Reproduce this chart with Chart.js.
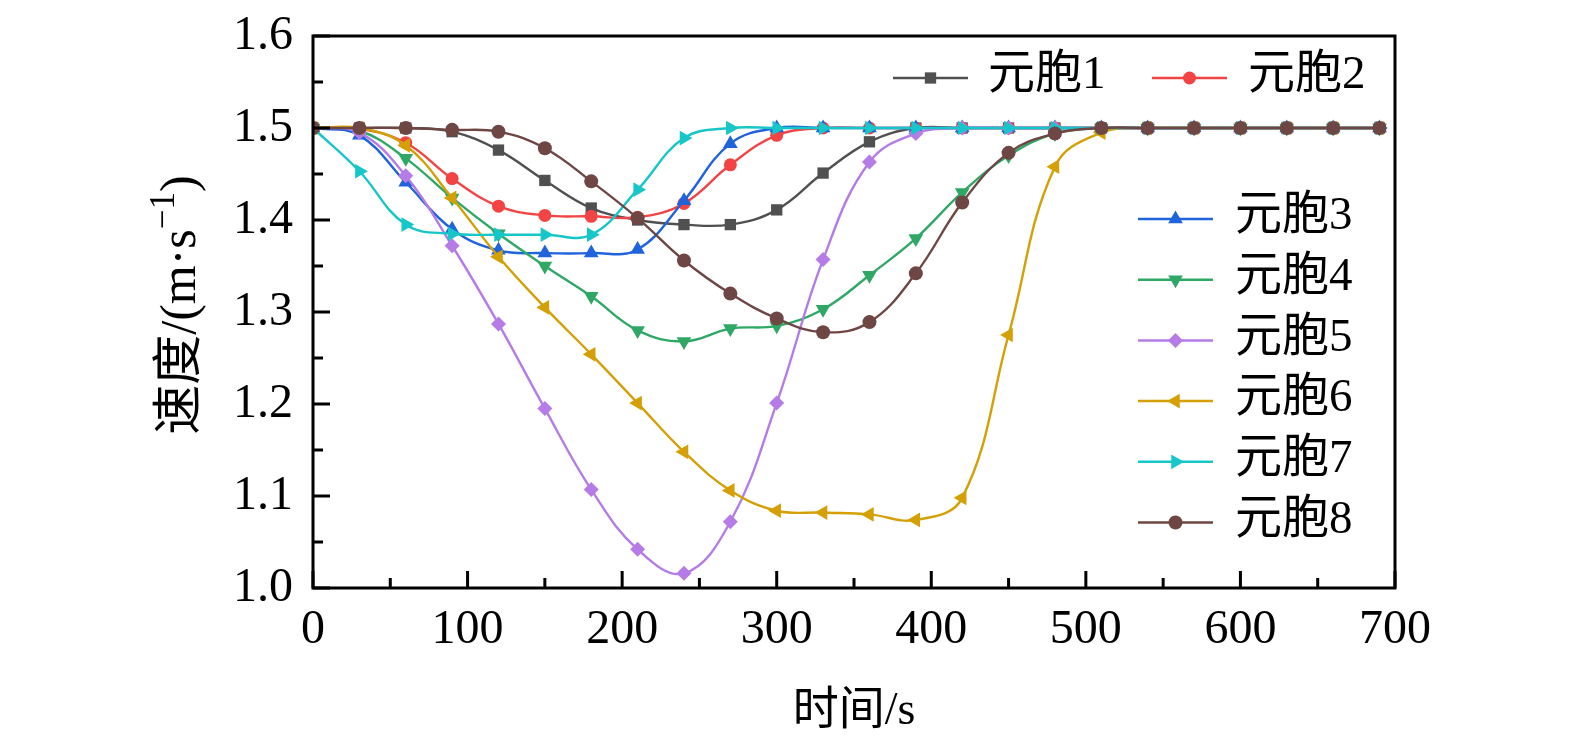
<!DOCTYPE html>
<html>
<head>
<meta charset="utf-8">
<script src="https://cdn.jsdelivr.net/npm/chart.js@4.4.0/dist/chart.umd.min.js"></script>
<style>
  html, body { margin: 0; padding: 0; background: #fff; }
  canvas { display: block; }
</style>
</head>
<body>
<canvas id="grafico" width="1575" height="748"></canvas>
<script>
// tempos (s) das amostras
const tempos = [0, 30, 60, 90, 120, 150, 180, 210, 240, 270, 300, 330,
                360, 390, 420, 450, 480, 510, 540, 570, 600, 630, 660, 690];

// velocidade (m/s) de cada elemento
const celula1 = [1.5, 1.5, 1.5, 1.496, 1.476, 1.443, 1.413, 1.400, 1.395, 1.395, 1.411, 1.451,
                 1.485, 1.5, 1.5, 1.5, 1.5, 1.5, 1.5, 1.5, 1.5, 1.5, 1.5, 1.5];
const celula2 = [1.5, 1.499, 1.484, 1.445, 1.415, 1.405, 1.404, 1.403, 1.418, 1.460, 1.492, 1.5,
                 1.5, 1.5, 1.5, 1.5, 1.5, 1.5, 1.5, 1.5, 1.5, 1.5, 1.5, 1.5];
const celula3 = [1.5, 1.492, 1.441, 1.390, 1.367, 1.364, 1.364, 1.368, 1.421, 1.483, 1.5, 1.5,
                 1.5, 1.5, 1.5, 1.5, 1.5, 1.5, 1.5, 1.5, 1.5, 1.5, 1.5, 1.5];
const celula4 = [1.5, 1.497, 1.467, 1.424, 1.385, 1.350, 1.317, 1.280, 1.268, 1.282, 1.285, 1.303,
                 1.340, 1.380, 1.430, 1.470, 1.494, 1.5, 1.5, 1.5, 1.5, 1.5, 1.5, 1.5];
const celula5 = [1.5, 1.495, 1.448, 1.372, 1.287, 1.195, 1.107, 1.042, 1.016, 1.072, 1.201, 1.357,
                 1.463, 1.494, 1.5, 1.5, 1.5, 1.5, 1.5, 1.5, 1.5, 1.5, 1.5, 1.5];
const celula6 = [1.5, 1.5, 1.481, 1.424, 1.360, 1.305, 1.254, 1.201, 1.148, 1.106, 1.084, 1.082,
                 1.080, 1.074, 1.098, 1.275, 1.458, 1.495, 1.5, 1.5, 1.5, 1.5, 1.5, 1.5];
const celula7 = [1.5, 1.453, 1.395, 1.385, 1.384, 1.384, 1.384, 1.433, 1.489, 1.5, 1.5, 1.5,
                 1.5, 1.5, 1.5, 1.5, 1.5, 1.5, 1.5, 1.5, 1.5, 1.5, 1.5, 1.5];
const celula8 = [1.5, 1.5, 1.5, 1.498, 1.496, 1.478, 1.442, 1.402, 1.356, 1.320, 1.293, 1.278,
                 1.289, 1.342, 1.419, 1.473, 1.494, 1.5, 1.5, 1.5, 1.5, 1.5, 1.5, 1.5];

const nomes = ['元胞1', '元胞2', '元胞3', '元胞4', '元胞5', '元胞6', '元胞7', '元胞8'];
const series = [celula1, celula2, celula3, celula4, celula5, celula6, celula7, celula8];

// marcas dos eixos
const xTicks = [0, 100, 200, 300, 400, 500, 600, 700];
const xMinor = [50, 150, 250, 350, 450, 550, 650];
const yTicks = [1.0, 1.1, 1.2, 1.3, 1.4, 1.5, 1.6];
const yMinor = [1.05, 1.15, 1.25, 1.35, 1.45, 1.55];

const cores = ['#505050', '#f24444', '#1f64dc', '#2fa866', '#b57be6', '#d4a006', '#17c6c8', '#6e4643'];
const estilos = [
  { pointStyle: 'rect', radius: 8, rotation: 0 },
  { pointStyle: 'circle', radius: 6.5, rotation: 0 },
  { pointStyle: 'triangle', radius: 8.5, rotation: 0 },
  { pointStyle: 'triangle', radius: 8.5, rotation: 180 },
  { pointStyle: 'rectRot', radius: 7.5, rotation: 0 },
  { pointStyle: 'triangle', radius: 8.5, rotation: 270 },
  { pointStyle: 'triangle', radius: 8.5, rotation: 90 },
  { pointStyle: 'circle', radius: 7, rotation: 0 }
];

const FONTE = '"Liberation Serif", "Noto Sans CJK SC", serif';

const datasets = series.map((valores, i) => ({
  label: nomes[i],
  data: valores.map((v, k) => ({ x: tempos[k], y: v })),
  borderColor: cores[i],
  backgroundColor: cores[i],
  borderWidth: 2.4,
  pointStyle: estilos[i].pointStyle,
  pointRadius: estilos[i].radius,
  pointRotation: estilos[i].rotation,
  pointBorderWidth: 0,
  pointHoverRadius: estilos[i].radius,
  tension: 0.4,
  order: 7 - i
}));

// legenda em duas partes: uma linha no topo e uma coluna a direita
const legendaPos = [
  { x1: 893, x2: 968, y: 78, tx: 988 },
  { x1: 1152, x2: 1227, y: 78, tx: 1248 }
];
for (let i = 0; i < 6; i++) {
  legendaPos.push({ x1: 1138, x2: 1213, y: 219 + 60.7 * i, tx: 1235 });
}

const molduraPlugin = {
  id: 'moldura',
  afterDraw(chart) {
    const { ctx, chartArea: a, scales: { x, y } } = chart;
    ctx.save();
    ctx.strokeStyle = '#000';
    ctx.lineWidth = 3;
    ctx.strokeRect(a.left, a.top, a.right - a.left, a.bottom - a.top);

    ctx.beginPath();
    xTicks.forEach(v => { const p = x.getPixelForValue(v); ctx.moveTo(p, a.bottom); ctx.lineTo(p, a.bottom - 17); });
    xMinor.forEach(v => { const p = x.getPixelForValue(v); ctx.moveTo(p, a.bottom); ctx.lineTo(p, a.bottom - 10); });
    yTicks.forEach(v => { const p = y.getPixelForValue(v); ctx.moveTo(a.left, p); ctx.lineTo(a.left + 17, p); });
    yMinor.forEach(v => { const p = y.getPixelForValue(v); ctx.moveTo(a.left, p); ctx.lineTo(a.left + 10, p); });
    ctx.stroke();

    // legenda
    chart.data.datasets.forEach((ds, i) => {
      const pos = legendaPos[i];
      ctx.strokeStyle = ds.borderColor;
      ctx.lineWidth = 2.5;
      ctx.beginPath();
      ctx.moveTo(pos.x1, pos.y);
      ctx.lineTo(pos.x2, pos.y);
      ctx.stroke();
      ctx.fillStyle = ds.backgroundColor;
      Chart.helpers.drawPoint(ctx, {
        pointStyle: ds.pointStyle, radius: ds.pointRadius, rotation: ds.pointRotation, borderWidth: 0
      }, (pos.x1 + pos.x2) / 2, pos.y);
      ctx.fillStyle = '#000';
      ctx.font = '47px ' + FONTE;
      ctx.textAlign = 'left';
      ctx.textBaseline = 'middle';
      ctx.fillText(ds.label, pos.tx, pos.y - 2);
    });

    // titulos dos eixos
    ctx.fillStyle = '#000';
    ctx.textAlign = 'center';
    ctx.textBaseline = 'alphabetic';
    ctx.font = '46px ' + FONTE;
    ctx.fillText('时间/s', (a.left + a.right) / 2, 724);

    ctx.translate(178, 305);
    ctx.rotate(-Math.PI / 2);
    const partes = [
      { t: '速度/(m·s', f: 50, dy: 0 },
      { t: '−1', f: 35, dy: -21 },
      { t: ')', f: 50, dy: 0 }
    ];
    let total = 0;
    partes.forEach(p => { ctx.font = p.f + 'px ' + FONTE; p.w = ctx.measureText(p.t).width; total += p.w; });
    let cx = -total / 2;
    ctx.textAlign = 'left';
    partes.forEach(p => {
      ctx.font = p.f + 'px ' + FONTE;
      ctx.fillText(p.t, cx, 17 + p.dy);
      cx += p.w;
    });
    ctx.restore();
  }
};

new Chart(document.getElementById('grafico').getContext('2d'), {
  type: 'line',
  data: { datasets: datasets },
  options: {
    responsive: false,
    animation: false,
    events: [],
    layout: { padding: { left: 0, top: 36, right: 180, bottom: 0 } },
    plugins: {
      legend: { display: false },
      tooltip: { enabled: false }
    },
    scales: {
      x: {
        type: 'linear',
        min: 0,
        max: 700,
        grid: { display: false, drawTicks: false },
        border: { display: false },
        afterBuildTicks: s => { s.ticks = xTicks.map(v => ({ value: v })); },
        afterFit: s => { s.height = 160; s.paddingLeft = 0; s.paddingRight = 0; },
        ticks: {
          padding: 14,
          color: '#000',
          maxRotation: 0,
          font: { family: FONTE, size: 48 },
          callback: v => String(v)
        }
      },
      y: {
        type: 'linear',
        min: 1.0,
        max: 1.6,
        grid: { display: false, drawTicks: false },
        border: { display: false },
        afterBuildTicks: s => { s.ticks = yTicks.map(v => ({ value: v })); },
        afterFit: s => { s.width = 313; s.paddingTop = 0; s.paddingBottom = 0; },
        ticks: {
          padding: 20,
          color: '#000',
          font: { family: FONTE, size: 48 },
          callback: v => Number(v).toFixed(1)
        }
      }
    }
  },
  plugins: [molduraPlugin]
});
</script>
</body>
</html>
